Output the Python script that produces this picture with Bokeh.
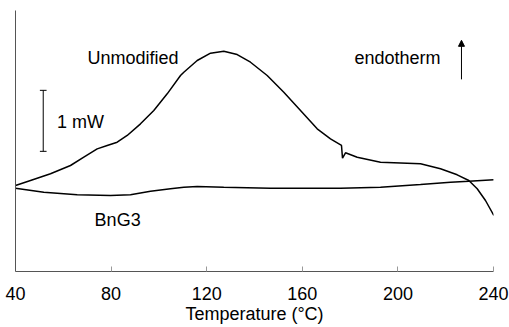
from bokeh.plotting import figure
from bokeh.models import Range1d, FixedTicker, Arrow, NormalHead, Label
from bokeh.embed import file_html
from bokeh.resources import INLINE

# Temperature (°C) and heat flow (mW, arbitrary offset)
unmod_T = [40.0, 46.28, 54.64, 63.01, 68.58, 74.18, 78.37, 82.55, 86.74, 92.30, 97.87,
           103.47, 109.04, 110.42, 116.03, 121.59, 127.15, 132.76, 138.33, 145.31,
           152.26, 159.25, 166.23, 171.80, 176.40, 176.82, 178.08, 182.97, 192.72,
           209.46, 217.82, 224.81, 229.67, 233.18, 236.65, 240.13]
unmod_Q = [1.410, 1.492, 1.602, 1.738, 1.874, 2.011, 2.066, 2.120, 2.230, 2.421, 2.639,
           2.913, 3.213, 3.267, 3.459, 3.579, 3.611, 3.557, 3.431, 3.213,
           2.939, 2.639, 2.339, 2.175, 2.066, 1.857, 1.946, 1.874, 1.792,
           1.766, 1.684, 1.585, 1.492, 1.356, 1.164, 0.918]

bng3_T = [40.0, 51.84, 65.82, 79.75, 88.12, 96.49, 104.85, 110.42, 116.03, 127.15,
          146.69, 175.98, 192.72, 209.46, 222.01, 229.67, 240.13]
bng3_Q = [1.366, 1.300, 1.257, 1.246, 1.257, 1.316, 1.356, 1.382, 1.393, 1.382,
          1.366, 1.366, 1.382, 1.426, 1.464, 1.480, 1.503]

x_ticks = [40, 80, 120, 160, 200, 240]

# scale bar (1 mW) and endotherm arrow
scale_T = 51.6
scale_caps = [50.2, 53.0]
scale_Q = [1.97, 2.97]
arrow_T = 226.6
arrow_Q = [3.15, 3.79]

p = figure(width=509, height=327, output_backend="svg", toolbar_location=None,
           x_range=Range1d(40, 240), y_range=Range1d(0, 4.279),
           min_border_left=15, min_border_right=16, min_border_top=10, min_border_bottom=56)
p.outline_line_color = None
p.grid.visible = False
p.background_fill_color = "white"

font = "Liberation Sans"
fs = "18px"

xa = p.xaxis[0]
xa.ticker = FixedTicker(ticks=x_ticks)
xa.minor_tick_line_color = None
xa.major_tick_in = 5
xa.major_tick_out = 0
xa.major_tick_line_color = "#999999"
xa.axis_line_color = "#555555"
xa.major_label_text_font = font
xa.major_label_text_font_size = fs
xa.major_label_text_color = "black"
xa.major_label_standoff = 15
xa.axis_label = "Temperature (°C)"
xa.axis_label_text_font = font
xa.axis_label_text_font_size = fs
xa.axis_label_text_font_style = "normal"
xa.axis_label_text_color = "black"
xa.axis_label_standoff = 1

ya = p.yaxis[0]
ya.ticker = FixedTicker(ticks=[])
ya.minor_tick_line_color = None
ya.major_tick_line_color = None
ya.major_label_text_font_size = "0px"
ya.axis_line_color = "#555555"

p.line(unmod_T, unmod_Q, line_color="black", line_width=1.5)
p.line(bng3_T, bng3_Q, line_color="black", line_width=1.5)

p.segment(x0=[scale_T, scale_caps[0], scale_caps[0]], y0=[scale_Q[0], scale_Q[0], scale_Q[1]],
          x1=[scale_T, scale_caps[1], scale_caps[1]], y1=[scale_Q[1], scale_Q[0], scale_Q[1]],
          line_color="black", line_width=1)

p.add_layout(Arrow(end=NormalHead(size=6, fill_color="black", line_color="black"),
                   x_start=arrow_T, y_start=arrow_Q[0], x_end=arrow_T, y_end=arrow_Q[1],
                   line_color="black", line_width=1))

labels = [("Unmodified", 70.1, 3.508), ("1 mW", 57.4, 2.448),
          ("endotherm", 181.8, 3.508), ("BnG3", 73.1, 0.852)]
for t, x, y in labels:
    p.add_layout(Label(x=x, y=y, text=t, text_font=font, text_font_size=fs,
                       text_align="left", text_baseline="middle", text_color="black"))

open("out.html", "w").write(file_html(p, INLINE))
